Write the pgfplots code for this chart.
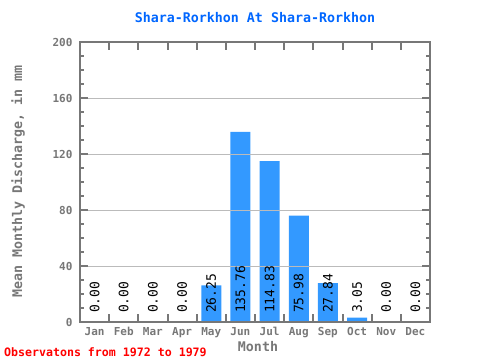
\documentclass[border=0pt]{standalone}
\usepackage{pgfplots}
\pgfplotsset{compat=1.18}
\usepackage{fontspec}
\setmainfont{DejaVu Sans Mono}
\definecolor{barblue}{HTML}{3399FF}
\definecolor{titleblue}{HTML}{0066FF}
\definecolor{axgray}{HTML}{777777}
\definecolor{gridgray}{HTML}{BBBBBB}
\begin{document}
\begin{tikzpicture}
\useasboundingbox (0pt,0pt) rectangle (480pt,360pt);
\begin{axis}[
  at={(80pt,38pt)}, anchor=south west,
  scale only axis, width=350pt, height=280pt,
  xmin=-0.5, xmax=11.5, ymin=0, ymax=200,
  ytick={0,40,...,200}, minor y tick num=3,
  xtick={0.5,1.5,...,10.5},
  xticklabels={},
  extra x ticks={0,...,11},
  extra x tick labels={Jan,Feb,Mar,Apr,May,Jun,Jul,Aug,Sep,Oct,Nov,Dec},
  extra x tick style={grid=none, major tick length=0pt},
  ymajorgrids, grid style={gridgray, line width=1pt},
  axis line style={axgray, line width=2pt},
  tick style={axgray, line width=2pt},
  major tick length=8pt, minor tick length=4pt,
  tick align=inside,
  /pgf/number format/assume math mode=true,
  ticklabel style={font=\bfseries\fontsize{11}{11}\selectfont, text=axgray},
  yticklabel style={xshift=-4pt},
  xticklabel style={yshift=-2pt},
  axis on top,
]
\addplot[ybar, bar width=20pt, fill=barblue, draw=none] coordinates {
 (0,0) (1,0) (2,0) (3,0) (4,26.25) (5,135.76) (6,114.83) (7,75.98) (8,27.84) (9,3.05) (10,0) (11,0)};
\addplot[only marks, mark=none, nodes near coords, point meta=explicit symbolic,
  every node near coord/.append style={rotate=90, anchor=west, inner sep=0pt, font=\fontsize{13}{13}\selectfont, text=black}]
 coordinates {
 (0,6.4) [0.00] (1,6.4) [0.00] (2,6.4) [0.00] (3,6.4) [0.00] (4,6.4) [26.25] (5,6.4) [135.76]
 (6,6.4) [114.83] (7,6.4) [75.98] (8,6.4) [27.84] (9,6.4) [3.05] (10,6.4) [0.00] (11,6.4) [0.00]};
\end{axis}
\node[font=\bfseries\fontsize{13.3}{13.3}\selectfont, text=titleblue] at (255pt,342pt) {Shara-Rorkhon At Shara-Rorkhon};
\node[font=\bfseries\fontsize{13.3}{13.3}\selectfont, text=axgray] at (258pt,13pt) {Month};
\node[rotate=90, font=\bfseries\fontsize{13.3}{13.3}\selectfont, text=axgray] at (18pt,178.5pt) {Mean Monthly Discharge, in mm};
\node[anchor=west, inner sep=0pt, font=\bfseries\fontsize{11.6}{11.6}\selectfont, text=red] at (4pt,8pt) {Observatons from 1972 to 1979};
\end{tikzpicture}
\end{document}
